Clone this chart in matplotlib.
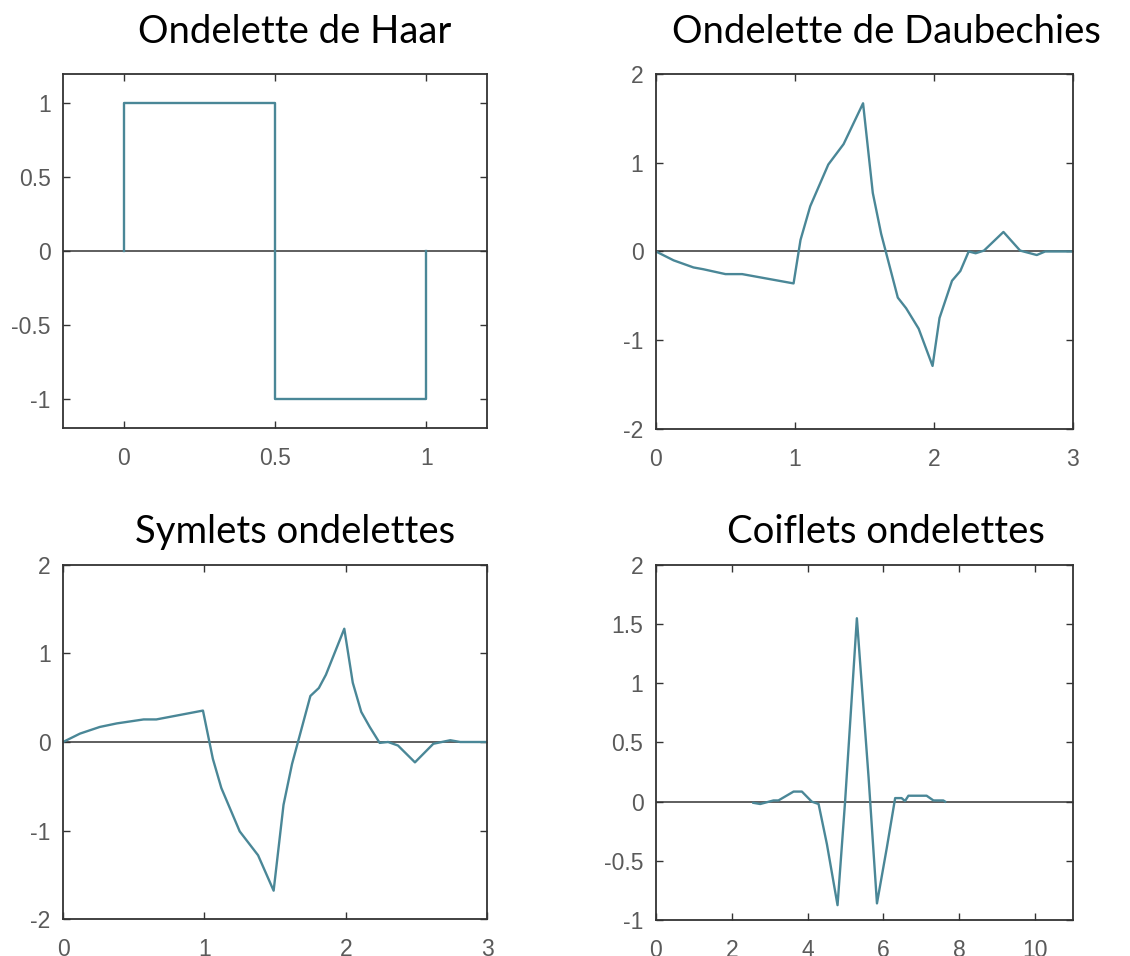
import matplotlib
matplotlib.use("Agg")
import matplotlib.pyplot as plt
from matplotlib.ticker import FuncFormatter

plt.rcParams['axes.unicode_minus'] = False

# Ondelette de Haar
haar_x = [0, 0, 0.5, 0.5, 1, 1]
haar_y = [0, 1, 1, -1, -1, 0]

# Ondelette de Daubechies
db_x = [0, 0.127, 0.27, 0.34, 0.5, 0.62, 0.99, 1.04, 1.11, 1.24, 1.35, 1.49,
        1.56, 1.62, 1.74, 1.80, 1.89, 1.99, 2.04, 2.13, 2.19, 2.25, 2.30, 2.36,
        2.50, 2.62, 2.74, 2.80, 3.0]
db_y = [0, -0.10, -0.18, -0.20, -0.255, -0.255, -0.36, 0.13, 0.51, 0.98, 1.21, 1.67,
        0.66, 0.20, -0.52, -0.64, -0.87, -1.29, -0.75, -0.33, -0.22, 0.0, -0.02, 0.01,
        0.22, 0.01, -0.04, 0.0, 0]

# Symlets
sym_x = [0, 0.12, 0.26, 0.38, 0.57, 0.66, 0.99, 1.06, 1.12, 1.25, 1.38, 1.49,
         1.56, 1.62, 1.75, 1.81, 1.86, 1.99, 2.05, 2.11, 2.17, 2.24, 2.30, 2.37,
         2.49, 2.62, 2.74, 2.81, 3.0]
sym_y = [0, 0.095, 0.17, 0.21, 0.255, 0.255, 0.355, -0.19, -0.52, -1.01, -1.28, -1.68,
         -0.71, -0.25, 0.52, 0.61, 0.76, 1.28, 0.67, 0.34, 0.17, -0.01, 0.0, -0.04,
         -0.23, -0.02, 0.02, 0, 0]

# Coiflets
coif_x = [2.57, 2.75, 3.10, 3.23, 3.63, 3.85, 4.11, 4.29, 4.51, 4.79, 4.99, 5.30,
          5.61, 5.83, 6.09, 6.31, 6.48, 6.57, 6.66, 7.14, 7.32, 7.58, 7.63]
coif_y = [-0.01, -0.02, 0.01, 0.01, 0.085, 0.085, 0, -0.02, -0.36, -0.875, 0.005, 1.55,
          0.2, -0.86, -0.39, 0.03, 0.03, 0.005, 0.05, 0.05, 0.01, 0.01, 0]

couleur = "#4a8797"
gris = "#5a5a5a"

fig = plt.figure(figsize=(11.3, 9.56), dpi=100)

def fmt(v, pos):
    return "%g" % v

def tracer(pos, x, y, titre, xlim, ylim, xticks, yticks, pad, tx):
    ax = fig.add_axes(pos)
    ax.axhline(0, color="#333333", lw=1.1, zorder=1)
    ax.plot(x, y, color=couleur, lw=1.7, zorder=2)
    ax.set_xlim(xlim)
    ax.set_ylim(ylim)
    ax.set_xticks(xticks)
    ax.set_yticks(yticks)
    ax.xaxis.set_major_formatter(FuncFormatter(fmt))
    ax.yaxis.set_major_formatter(FuncFormatter(fmt))
    ax.tick_params(direction="in", top=True, right=True, length=5, width=1,
                   color="#333333", labelcolor=gris, labelsize=16.5,
                   labelfontfamily="Liberation Sans")
    ax.tick_params(axis="x", pad=14)
    ax.tick_params(axis="y", pad=9)
    for s in ax.spines.values():
        s.set_color("#333333")
        s.set_linewidth(1.3)
    ax.set_title(titre, fontsize=27.5, family="Lato", pad=pad, color="black", x=tx)
    return ax

tracer([0.0558, 0.5523, 0.3752, 0.3703], haar_x, haar_y, "Ondelette de Haar",
       (-0.2, 1.2), (-1.2, 1.2), [0, 0.5, 1], [-1, -0.5, 0, 0.5, 1], 22, 0.547)
tracer([0.5805, 0.5513, 0.369, 0.3713], db_x, db_y, "Ondelette de Daubechies",
       (0, 3), (-2, 2), [0, 1, 2, 3], [-2, -1, 0, 1, 2], 22, 0.552)
tracer([0.0558, 0.0387, 0.3752, 0.3703], sym_x, sym_y, "Symlets ondelettes",
       (0, 3), (-2, 2), [0, 1, 2, 3], [-2, -1, 0, 1, 2], 15.5, 0.547)
tracer([0.5805, 0.0377, 0.369, 0.3713], coif_x, coif_y, "Coiflets ondelettes",
       (0, 11), (-1, 2), [0, 2, 4, 6, 8, 10], [-1, -0.5, 0, 0.5, 1, 1.5, 2], 15.5, 0.552)

fig.savefig("out.png", dpi=100)
